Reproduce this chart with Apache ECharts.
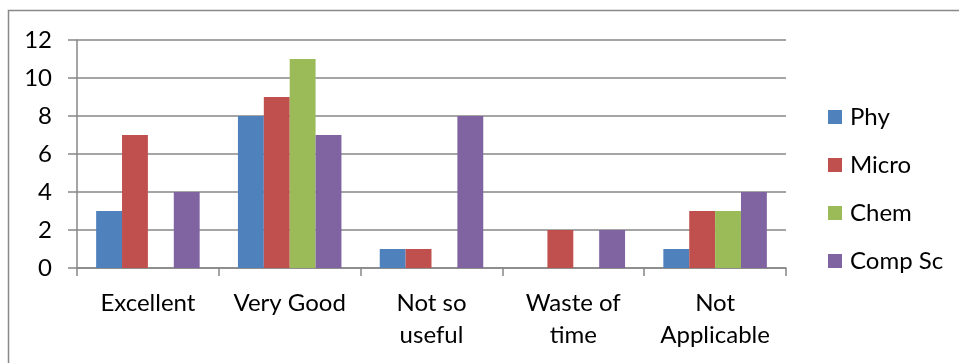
<!DOCTYPE html>
<html><head><meta charset="utf-8">
<script src="https://cdn.jsdelivr.net/npm/echarts@6/dist/echarts.min.js"></script>
<style>html,body{margin:0;padding:0;background:#fff}#c{width:959px;height:363px}</style>
</head><body><div id="c"></div>
<script>
const categories = ['Excellent', 'Very Good', 'Not so\nuseful', 'Waste of\ntime', 'Not\nApplicable'];
const seriesNames = ['Phy', 'Micro', 'Chem', 'Comp Sc'];
const phy = [3, 8, 1, 0, 1];
const micro = [7, 9, 1, 2, 3];
const chem = [0, 11, 0, 0, 3];
const compSc = [4, 7, 8, 2, 4];
const yTicks = [0, 2, 4, 6, 8, 10, 12];
const colors = ['#4F81BD', '#C0504D', '#9BBB59', '#8064A2'];
const values = [phy, micro, chem, compSc];
const FONT = 'Lato';

const chart = echarts.init(document.getElementById('c'), null, {renderer: 'canvas'});
chart.setOption({
  animation: false,
  textStyle: {fontFamily: FONT},
  graphic: [{
    type: 'rect', shape: {x: 8.5, y: 10.5, width: 1000, height: 400},
    style: {fill: 'none', stroke: '#898989', lineWidth: 1.5}, silent: true
  }],
  grid: {left: 77, right: 173, top: 40, bottom: 95, containLabel: false},
  legend: {
    orient: 'vertical', left: 823, top: 100,
    itemWidth: 14, itemHeight: 14, itemGap: 24,
    icon: 'rect',
    textStyle: {fontFamily: FONT, fontSize: 24, lineHeight: 24, color: '#000', padding: [0, 0, 0, 3]},
    data: seriesNames
  },
  xAxis: {
    type: 'category', data: categories,
    axisLine: {lineStyle: {color: '#878787', width: 1.5}},
    axisTick: {show: true, length: 8, alignWithLabel: false, lineStyle: {color: '#878787', width: 1.5}},
    axisLabel: {color: '#000', fontSize: 24, fontFamily: FONT, margin: 19, lineHeight: 32, interval: 0}
  },
  yAxis: {
    type: 'value', min: yTicks[0], max: yTicks[yTicks.length - 1], interval: 2,
    axisLine: {show: true, lineStyle: {color: '#878787', width: 1.5}},
    axisTick: {show: true, length: 9, lineStyle: {color: '#878787', width: 1.5}},
    splitLine: {lineStyle: {color: '#878787', width: 1.5}},
    axisLabel: {color: '#000', fontSize: 24, fontFamily: FONT, margin: 25}
  },
  series: seriesNames.map((n, i) => ({
    name: n, type: 'bar', data: values[i],
    barGap: 0, barCategoryGap: '27%',
    itemStyle: {color: colors[i]}
  }))
});
</script></body></html>
